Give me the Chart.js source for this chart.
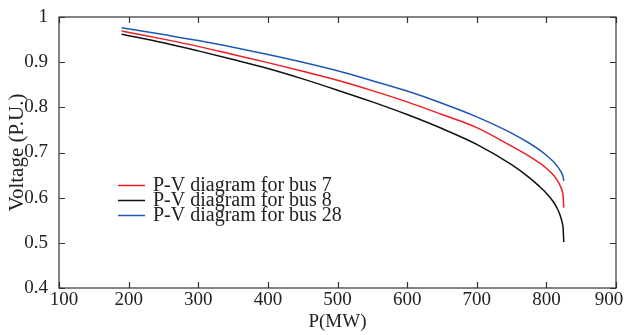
<!DOCTYPE html>
<html lang="en">
<head>
  <meta charset="UTF-8">
  <title>P-V diagram</title>
  <script src="https://cdn.jsdelivr.net/npm/chart.js"></script>
  <style>
    body { margin: 0; background: #fff; }
  </style>
</head>
<body>
<canvas id="pvChart" width="625" height="335"></canvas>
<script>
  // load P (MW) and bus voltages (P.U.)
  const pMW   = [190, 250, 300, 350, 400, 450, 500, 550, 600, 650, 700, 750, 775, 790, 800, 810, 815, 820, 823, 824, 825];
  const bus7  = [0.969, 0.951, 0.935, 0.917, 0.899, 0.880, 0.860, 0.837, 0.812, 0.784, 0.755, 0.714, 0.692, 0.677, 0.665, 0.650, 0.640, 0.626, 0.613, 0.605, 0.578];
  const bus8  = [0.962, 0.943, 0.925, 0.906, 0.886, 0.863, 0.838, 0.812, 0.784, 0.753, 0.718, 0.673, 0.645, 0.625, 0.610, 0.591, 0.578, 0.560, 0.543, 0.533, 0.502];
  const bus28 = [0.976, 0.961, 0.948, 0.933, 0.917, 0.900, 0.881, 0.859, 0.836, 0.809, 0.779, 0.743, 0.721, 0.706, 0.694, 0.680, 0.671, 0.660, 0.651, 0.646, 0.637];

  const xTicks = [100, 200, 300, 400, 500, 600, 700, 800, 900];
  const yTicks = [0.4, 0.5, 0.6, 0.7, 0.8, 0.9, 1];

  const serif = "'Liberation Serif', 'Times New Roman', serif";
  const axisColor = '#333';
  const textColor = '#222';

  function pts(values) {
    return pMW.map((p, i) => ({ x: p, y: values[i] }));
  }

  // box around the plot with inward ticks on all four sides,
  // plus the x tick labels (end labels nudged inside like the original)
  const boxTicks = {
    id: 'boxTicks',
    afterDraw(chart) {
      const { ctx, chartArea: a, scales } = chart;
      const len = 6;
      ctx.save();
      ctx.strokeStyle = axisColor;
      ctx.lineWidth = 1.2;
      ctx.strokeRect(a.left, a.top, a.right - a.left, a.bottom - a.top);
      ctx.beginPath();
      xTicks.forEach(v => {
        const x = Math.round(scales.x.getPixelForValue(v)) + 0.5;
        ctx.moveTo(x, a.bottom); ctx.lineTo(x, a.bottom - len);
        ctx.moveTo(x, a.top); ctx.lineTo(x, a.top + len);
      });
      yTicks.forEach(v => {
        const y = Math.round(scales.y.getPixelForValue(v)) + 0.5;
        ctx.moveTo(a.left, y); ctx.lineTo(a.left + len, y);
        ctx.moveTo(a.right, y); ctx.lineTo(a.right - len, y);
      });
      ctx.stroke();

      ctx.font = '19px ' + serif;
      ctx.fillStyle = textColor;
      ctx.textAlign = 'center';
      ctx.textBaseline = 'top';
      xTicks.forEach((v, i) => {
        let x = scales.x.getPixelForValue(v);
        if (i === 0) x += 5;
        if (i === xTicks.length - 1) x -= 7;
        ctx.fillText(String(v), x, a.bottom + 3);
      });
      ctx.restore();
    }
  };

  // legend sitting inside the plot, lower left
  const innerLegend = {
    id: 'innerLegend',
    afterDraw(chart) {
      const ctx = chart.ctx;
      const x0 = 118, y0 = 185, row = 15;
      ctx.save();
      ctx.font = '20px ' + serif;
      ctx.textBaseline = 'middle';
      ctx.fillStyle = textColor;
      chart.data.datasets.forEach((ds, i) => {
        const y = y0 + i * row;
        ctx.strokeStyle = ds.borderColor;
        ctx.lineWidth = 1.5;
        ctx.beginPath();
        ctx.moveTo(x0, y + 0.5); ctx.lineTo(x0 + 27, y + 0.5);
        ctx.stroke();
        ctx.fillText(ds.label, x0 + 35, y + 1);
      });
      ctx.restore();
    }
  };

  new Chart(document.getElementById('pvChart'), {
    type: 'line',
    data: {
      datasets: [
        { label: 'P-V diagram for bus 7', data: pts(bus7), borderColor: '#ee1c24' },
        { label: 'P-V diagram for bus 8', data: pts(bus8), borderColor: '#111111' },
        { label: 'P-V diagram for bus 28', data: pts(bus28), borderColor: '#1f58b4' }
      ]
    },
    options: {
      responsive: false,
      animation: false,
      layout: { padding: { top: 17, right: 9, left: 0, bottom: 0 } },
      elements: {
        point: { radius: 0 },
        line: { borderWidth: 1.5, cubicInterpolationMode: 'monotone' }
      },
      plugins: {
        legend: { display: false },
        tooltip: { enabled: false }
      },
      scales: {
        x: {
          type: 'linear',
          min: 100, max: 900,
          afterFit(scale) {
            scale.height = 47;
            scale.paddingLeft = 0;
            scale.paddingRight = 0;
          },
          afterBuildTicks(scale) { scale.ticks = xTicks.map(v => ({ value: v })); },
          grid: { display: false },
          border: { display: false },
          ticks: { display: false },
          title: { display: true, text: 'P(MW)', color: textColor, padding: { top: 0, bottom: 2 }, font: { family: serif, size: 19 } }
        },
        y: {
          min: 0.4, max: 1,
          afterFit(scale) { scale.width = 59; },
          afterBuildTicks(scale) { scale.ticks = yTicks.map(v => ({ value: v })); },
          grid: { display: false },
          border: { display: false },
          ticks: {
            color: textColor, padding: 3, font: { family: serif, size: 19 },
            callback: v => String(Number(v.toFixed(1)))
          },
          title: { display: true, text: 'Voltage (P.U.)', color: textColor, padding: { top: 5, bottom: 0 }, font: { family: serif, size: 21 } }
        }
      }
    },
    plugins: [boxTicks, innerLegend]
  });
</script>
</body>
</html>
